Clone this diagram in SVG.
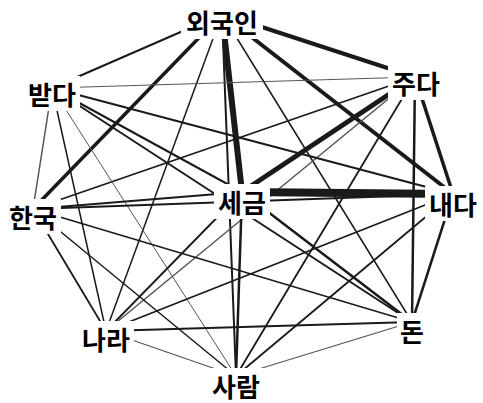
<svg xmlns="http://www.w3.org/2000/svg" width="483" height="403" viewBox="0 0 483 403">
<style>
.e{stroke:#1a1a1a;stroke-linecap:butt;fill:none}
.l{stroke:#555}
.bg{fill:#fff}
.t{font-family:"Noto Sans CJK KR","Noto Sans",sans-serif;font-size:26px;font-weight:700;fill:#000;text-anchor:middle;dominant-baseline:central}
</style>
<rect width="483" height="403" fill="#fff"/>
<g id="edges">
<line class="e" x1="222" y1="14" x2="415" y2="77" stroke-width="4"/>
<line class="e" x1="222" y1="14" x2="52" y2="88" stroke-width="2"/>
<line class="e" x1="222" y1="14" x2="242" y2="192" stroke-width="6"/>
<line class="e" x1="222" y1="14" x2="453" y2="194" stroke-width="4"/>
<line class="e" x1="222" y1="14" x2="33" y2="209" stroke-width="3.5"/>
<line class="e" x1="222" y1="14" x2="106" y2="331" stroke-width="1.5"/>
<line class="e" x1="222" y1="14" x2="412" y2="322" stroke-width="1.5"/>
<line class="e" x1="222" y1="14" x2="236" y2="376" stroke-width="2"/>
<line class="e l" x1="415" y1="77" x2="52" y2="88" stroke-width="1.2"/>
<line class="e" x1="415" y1="77" x2="242" y2="192" stroke-width="5"/>
<line class="e" x1="415" y1="77" x2="453" y2="194" stroke-width="3.5"/>
<line class="e" x1="415" y1="77" x2="33" y2="209" stroke-width="1.8"/>
<line class="e l" x1="415" y1="77" x2="106" y2="331" stroke-width="1.5"/>
<line class="e" x1="415" y1="77" x2="412" y2="322" stroke-width="2.5"/>
<line class="e" x1="415" y1="77" x2="236" y2="376" stroke-width="1.8"/>
<line class="e" x1="52" y1="88" x2="242" y2="192" stroke-width="2"/>
<line class="e" x1="52" y1="88" x2="453" y2="194" stroke-width="2"/>
<line class="e l" x1="52" y1="88" x2="33" y2="209" stroke-width="1.5"/>
<line class="e" x1="52" y1="88" x2="106" y2="331" stroke-width="1.5"/>
<line class="e" x1="52" y1="88" x2="412" y2="322" stroke-width="2"/>
<line class="e l" x1="52" y1="88" x2="236" y2="376" stroke-width="1"/>
<line class="e" x1="242" y1="192" x2="453" y2="194" stroke-width="8"/>
<line class="e" x1="242" y1="192" x2="33" y2="209" stroke-width="1.8"/>
<line class="e" x1="242" y1="192" x2="106" y2="331" stroke-width="1.8"/>
<line class="e" x1="242" y1="192" x2="412" y2="322" stroke-width="2.5"/>
<line class="e" x1="242" y1="192" x2="236" y2="376" stroke-width="2.5"/>
<line class="e" x1="453" y1="194" x2="33" y2="209" stroke-width="1.8"/>
<line class="e" x1="453" y1="194" x2="106" y2="331" stroke-width="1.8"/>
<line class="e" x1="453" y1="194" x2="412" y2="322" stroke-width="2.5"/>
<line class="e" x1="453" y1="194" x2="236" y2="376" stroke-width="1.8"/>
<line class="e" x1="33" y1="209" x2="106" y2="331" stroke-width="1.8"/>
<line class="e" x1="33" y1="209" x2="412" y2="322" stroke-width="1.5"/>
<line class="e" x1="33" y1="209" x2="236" y2="376" stroke-width="1.5"/>
<line class="e" x1="106" y1="331" x2="412" y2="322" stroke-width="2"/>
<line class="e l" x1="106" y1="331" x2="236" y2="376" stroke-width="1.3"/>
<line class="e l" x1="412" y1="322" x2="236" y2="376" stroke-width="1.3"/>
</g>
<g id="node-외국인"><rect class="bg" x="181" y="4" width="82" height="35"/><text class="t" x="222" y="21">외국인</text></g>
<g id="node-주다"><rect class="bg" x="388" y="65" width="56" height="35"/><text class="t" x="416" y="82">주다</text></g>
<g id="node-받다"><rect class="bg" x="24" y="76" width="56" height="35"/><text class="t" x="52" y="93">받다</text></g>
<g id="node-세금"><rect class="bg" x="214" y="184" width="56" height="35"/><text class="t" x="242" y="201">세금</text></g>
<g id="node-내다"><rect class="bg" x="425" y="186" width="56" height="35"/><text class="t" x="453" y="203">내다</text></g>
<g id="node-한국"><rect class="bg" x="5" y="199" width="56" height="35"/><text class="t" x="33" y="216">한국</text></g>
<g id="node-나라"><rect class="bg" x="78" y="321" width="56" height="35"/><text class="t" x="106" y="338">나라</text></g>
<g id="node-돈"><rect class="bg" x="397" y="313" width="30" height="35"/><text class="t" x="412" y="330">돈</text></g>
<g id="node-사람"><rect class="bg" x="208" y="368" width="56" height="35"/><text class="t" x="236" y="385">사람</text></g>
</svg>
